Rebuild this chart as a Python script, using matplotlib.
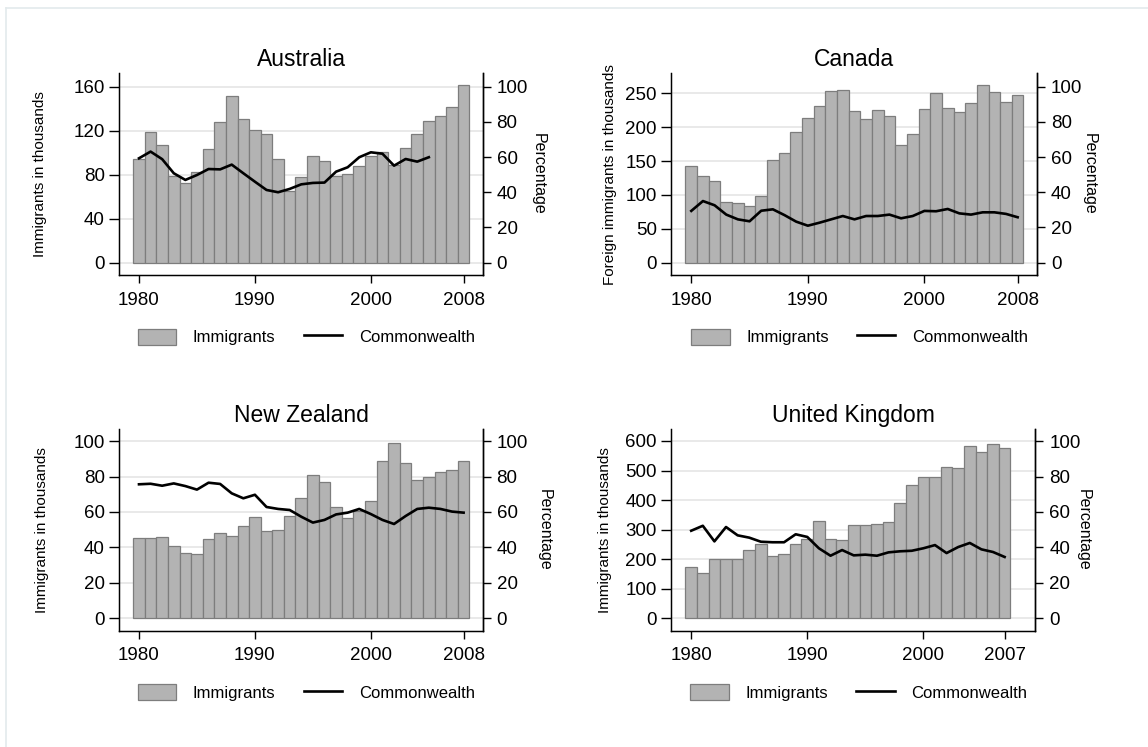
import matplotlib
matplotlib.use("Agg")
import matplotlib.pyplot as plt
from matplotlib.lines import Line2D

plt.rcParams["font.family"] = ["Liberation Sans", "DejaVu Sans"]

# --- data ---
years_08 = list(range(1980, 2009))
years_07 = list(range(1980, 2008))

aus_imm = [94, 118.5, 107, 79, 72.7, 82, 103, 128, 151.5, 130.6, 121, 116.7, 94, 65,
           77.6, 97, 92, 79, 81, 88, 97, 101, 89, 104, 117, 129, 133.6, 141.5, 161.5]
aus_cw_years = list(range(1980, 2006))
aus_cw = [59.3, 63.1, 58.8, 50.8, 47, 49.8, 53.2, 53, 55.7, 50.8, 46, 41.3, 40, 41.9,
          44.5, 45.3, 45.5, 51.7, 54.2, 59.9, 62.7, 61.9, 55.1, 58.9, 57.4, 59.9]

can_imm = [142.7, 128.4, 120, 89, 87.6, 84, 99, 151.6, 162, 192.4, 214, 230.8, 253, 255,
           224, 212, 225, 216, 173.7, 189.5, 227, 251, 228.8, 222, 235.7, 261.8, 252, 236.7, 247]
can_cw = [29.4, 35, 32.6, 27.3, 24.6, 23.5, 29.5, 30.3, 27, 23.3, 21, 22.7, 24.6, 26.5,
          24.6, 26.5, 26.5, 27.3, 25.2, 26.5, 29.4, 29.2, 30.5, 28, 27.3, 28.6, 28.6, 27.7, 25.8]

nz_imm = [45.1, 45.1, 45.9, 40.6, 36.7, 36.1, 44.5, 47.9, 46.2, 52.3, 57, 49, 49.6, 57.5,
          67.7, 80.6, 77, 63, 56.8, 60.7, 66.4, 88.5, 98.7, 87.4, 77.8, 80, 82.7, 83.5, 88.9]
nz_cw = [75.6, 75.9, 74.8, 76.1, 74.6, 72.6, 76.5, 75.8, 70.5, 67.7, 69.7, 62.8, 61.7, 61.1,
         57.3, 54, 55.5, 58.6, 59.6, 61.7, 58.8, 55.5, 53.2, 57.7, 61.7, 62.4, 61.7, 60.2, 59.6]

uk_imm = [173.7, 153.4, 199.6, 200, 200, 232, 251.5, 212, 216.5, 250, 267, 328, 268, 266,
          314.6, 314.6, 319, 324.8, 390, 452, 478, 479, 513, 510, 584, 563, 589, 576]
uk_cw = [49.4, 52.2, 43.4, 51.5, 46.8, 45.5, 43.2, 42.9, 42.9, 47.4, 45.9, 39.5, 35.3, 38.5,
         35.5, 35.9, 35.3, 37.2, 37.8, 38.1, 39.5, 41.3, 36.8, 40.2, 42.5, 38.9, 37.4, 34.6]

panels = [
    dict(title="Australia", ylabel="Immigrants in thousands",
         yr=years_08, imm=aus_imm, cw_yr=aus_cw_years, cw=aus_cw,
         yticks=[0, 40, 80, 120, 160], ylim=(-11.2, 172.2), rlim=(-7.0, 107.6),
         xticks=[1980, 1990, 2000, 2008],
         rect=[0.1039, 0.6319, 0.3166, 0.2700], ylab_x=-0.218, rlab_x=1.154),
    dict(title="Canada", ylabel="Foreign immigrants in thousands",
         yr=years_08, imm=can_imm, cw_yr=years_08, cw=can_cw,
         yticks=[0, 50, 100, 150, 200, 250], ylim=(-18.2, 279.5), rlim=(-7.0, 107.6),
         xticks=[1980, 1990, 2000, 2008],
         rect=[0.5849, 0.6319, 0.3183, 0.2700], ylab_x=-0.168, rlab_x=1.144),
    dict(title="New Zealand", ylabel="Immigrants in thousands",
         yr=years_08, imm=nz_imm, cw_yr=years_08, cw=nz_cw,
         yticks=[0, 20, 40, 60, 80, 100], ylim=(-7.0, 106.8), rlim=(-7.0, 106.8),
         xticks=[1980, 1990, 2000, 2008],
         rect=[0.1039, 0.1557, 0.3166, 0.2700], ylab_x=-0.213, rlab_x=1.168),
    dict(title="United Kingdom", ylabel="Immigrants in thousands",
         yr=years_07, imm=uk_imm, cw_yr=years_07, cw=uk_cw,
         yticks=[0, 100, 200, 300, 400, 500, 600], ylim=(-42, 640.6), rlim=(-7.0, 106.8),
         xticks=[1980, 1990, 2000, 2007],
         rect=[0.5849, 0.1557, 0.3170, 0.2700], ylab_x=-0.183, rlab_x=1.132),
]
right_ticks = [0, 20, 40, 60, 80, 100]

fig = plt.figure(figsize=(11.48, 7.47), dpi=100)
fig.patch.set_facecolor("white")

# faint graph-region outline (top and left edges visible)
fig.add_artist(Line2D([6 / 1148, 1.0], [1 - 8 / 747, 1 - 8 / 747], color="#e3eaec", lw=1.2))
fig.add_artist(Line2D([6 / 1148, 6 / 1148], [0.0, 1 - 8 / 747], color="#e3eaec", lw=1.2))

for p in panels:
    ax = fig.add_axes(p["rect"])
    ax.bar(p["yr"], p["imm"], width=1.0, color="#b3b3b3", edgecolor="#7d7d7d",
           linewidth=0.9, label="Immigrants", zorder=2)
    ax.set_xlim(1978.3, 2009.65)
    ax.set_ylim(*p["ylim"])
    ax.set_yticks(p["yticks"])
    ax.set_xticks(p["xticks"])
    ax.grid(axis="y", color="#e9e9e9", lw=1.4)
    ax.set_axisbelow(True)
    ax.tick_params(axis="y", direction="out", length=7, width=1, pad=3.5, labelsize=13.5)
    ax.tick_params(axis="x", direction="out", length=6, width=1, pad=6, labelsize=13.5)
    ax.spines["top"].set_visible(False)
    for s in ("left", "bottom", "right"):
        ax.spines[s].set_linewidth(1.0)
    ax.set_title(p["title"], fontsize=16.5, pad=5)
    ax.text(p["ylab_x"], 0.5, p["ylabel"], rotation=90, ha="center", va="center",
            fontsize=11, transform=ax.transAxes)

    ax2 = ax.twinx()
    ax2.plot(p["cw_yr"], p["cw"], color="black", lw=1.9, label="Commonwealth", zorder=3)
    ax2.set_ylim(*p["rlim"])
    ax2.set_yticks(right_ticks)
    ax2.tick_params(axis="y", direction="out", length=6, width=1, pad=4, labelsize=13.5)
    ax2.spines["top"].set_visible(False)
    ax2.spines["right"].set_linewidth(1.0)
    ax2.text(p["rlab_x"], 0.5, "Percentage", rotation=270, ha="center", va="center",
             fontsize=11.5, transform=ax.transAxes)

    h1, l1 = ax.get_legend_handles_labels()
    h2, l2 = ax2.get_legend_handles_labels()
    ax2.legend(h1 + h2, l1 + l2, loc="center", bbox_to_anchor=(0.515, -0.307), ncol=2,
               frameon=False, fontsize=12, handlelength=2.3, handleheight=1.12,
               handletextpad=1.0, columnspacing=1.7)

fig.savefig("out.png", dpi=100)
